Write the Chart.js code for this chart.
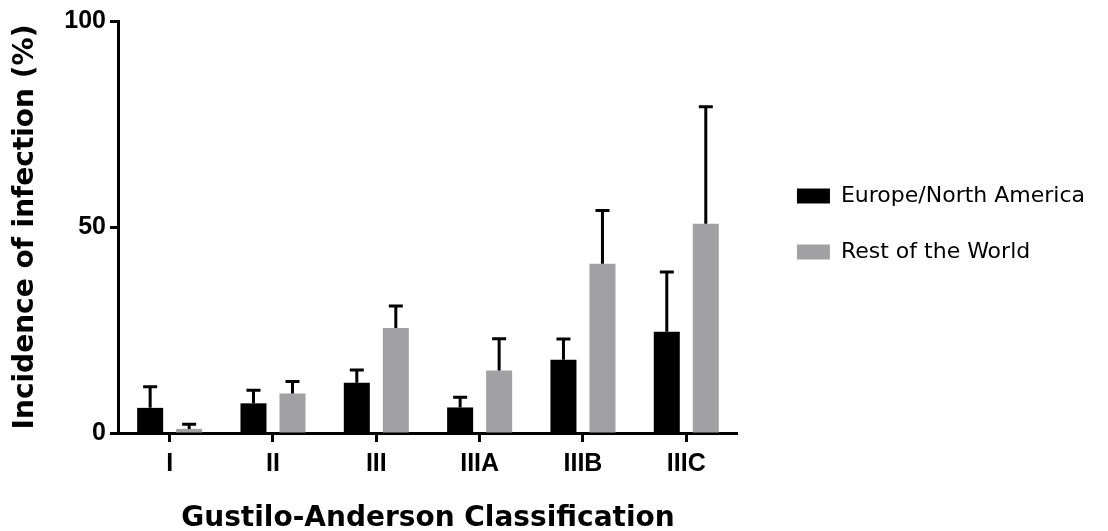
<!DOCTYPE html>
<html>
<head>
<meta charset="utf-8">
<script src="https://cdn.jsdelivr.net/npm/chart.js@4.4.1/dist/chart.umd.min.js"></script>
<style>
  html, body { margin: 0; padding: 0; background: #ffffff; }
  #wrap { width: 1108px; height: 531px; }
</style>
</head>
<body>
<div id="wrap"><canvas id="chart" width="1108" height="531"></canvas></div>
<script>
// Gustilo-Anderson grade categories
const categories = ['I', 'II', 'III', 'IIIA', 'IIIB', 'IIIC'];

// Incidence of infection (%) and upper error (SD) per region
const europeValues = [6.1, 7.2, 12.2, 6.2, 17.8, 24.6];
const europeErrors = [5.1, 3.2, 3.1, 2.5, 5.0, 14.5];
const restValues   = [1.0, 9.6, 25.5, 15.2, 41.1, 50.8];
const restErrors   = [1.1, 2.9, 5.3, 7.7, 12.9, 28.4];

const seriesNames = ['Europe/North America', 'Rest of the World'];
const yTicks = [0, 50, 100];

const BLACK = '#000000';
const GREY = '#a1a1a4';
const TITLE_FONT = "'DejaVu Sans', sans-serif";
const TICK_FONT = "'Liberation Sans', Arial, sans-serif";

// Upward-only error bars with a short cap, drawn over each bar
const errorBars = {
  id: 'errorBars',
  afterDatasetsDraw(chart) {
    const ctx = chart.ctx;
    const y = chart.scales.y;
    chart.data.datasets.forEach((ds, di) => {
      const meta = chart.getDatasetMeta(di);
      if (meta.hidden) return;
      meta.data.forEach((bar, i) => {
        const base = y.getPixelForValue(ds.data[i]);
        const top = y.getPixelForValue(ds.data[i] + ds.errors[i]);
        ctx.save();
        ctx.strokeStyle = BLACK;
        ctx.lineWidth = 3;
        ctx.beginPath();
        ctx.moveTo(bar.x, base);
        ctx.lineTo(bar.x, top);
        ctx.moveTo(bar.x - 7, top);
        ctx.lineTo(bar.x + 7, top);
        ctx.stroke();
        ctx.restore();
      });
    });
  }
};

// Push the legend a little away from the plot
const legendNudge = {
  id: 'legendNudge',
  afterLayout(chart) {
    const l = chart.legend;
    if (!l) return;
    l.left += 25; l.right += 25;
    l.top -= 3; l.bottom -= 3;
  }
};

Chart.defaults.color = BLACK;

new Chart(document.getElementById('chart'), {
  type: 'bar',
  data: {
    labels: categories,
    datasets: [
      { label: seriesNames[0], data: europeValues, errors: europeErrors, backgroundColor: BLACK, borderWidth: 0 },
      { label: seriesNames[1], data: restValues, errors: restErrors, backgroundColor: GREY, borderWidth: 0 }
    ]
  },
  options: {
    responsive: false,
    animation: false,
    devicePixelRatio: 1,
    categoryPercentage: 0.755,
    barPercentage: 0.667,
    layout: { padding: { top: 21, right: 38, bottom: 0, left: 0 } },
    plugins: {
      legend: {
        position: 'right',
        fullSize: false,
        align: 'center',
        maxWidth: 420,
        labels: {
          boxWidth: 33,
          boxHeight: 15,
          padding: 34,
          color: BLACK,
          font: { family: TITLE_FONT, size: 22, weight: 'normal' }
        }
      },
      tooltip: { enabled: false }
    },
    scales: {
      x: {
        afterFit(scale) { scale.height = 98; },
        grid: {
          offset: false,
          drawOnChartArea: false,
          drawTicks: true,
          tickLength: 9,
          tickWidth: 3,
          tickColor: BLACK
        },
        border: { display: true, color: BLACK, width: 3 },
        ticks: {
          color: BLACK,
          padding: 7,
          font: { family: TICK_FONT, size: 25, weight: 'bold' }
        },
        title: {
          display: true,
          text: 'Gustilo-Anderson Classification',
          color: BLACK,
          font: { family: TITLE_FONT, size: 28, weight: 'bold', lineHeight: 0.85 },
          padding: { top: 0, bottom: 0 }
        }
      },
      y: {
        min: 0,
        max: 100,
        afterFit(scale) { scale.width = 118; },
        afterBuildTicks(scale) { scale.ticks = yTicks.map(v => ({ value: v })); },
        grid: {
          drawOnChartArea: false,
          drawTicks: true,
          tickLength: 8,
          tickWidth: 3,
          tickColor: BLACK
        },
        border: { display: true, color: BLACK, width: 3 },
        ticks: {
          color: BLACK,
          padding: 4,
          font: { family: TICK_FONT, size: 25, weight: 'bold' }
        },
        title: {
          display: true,
          text: 'Incidence of infection (%)',
          color: BLACK,
          font: { family: TITLE_FONT, size: 28, weight: 'bold', lineHeight: 1.2 },
          padding: { top: 9, bottom: 0 }
        }
      }
    }
  },
  plugins: [errorBars, legendNudge]
});
</script>
</body>
</html>
